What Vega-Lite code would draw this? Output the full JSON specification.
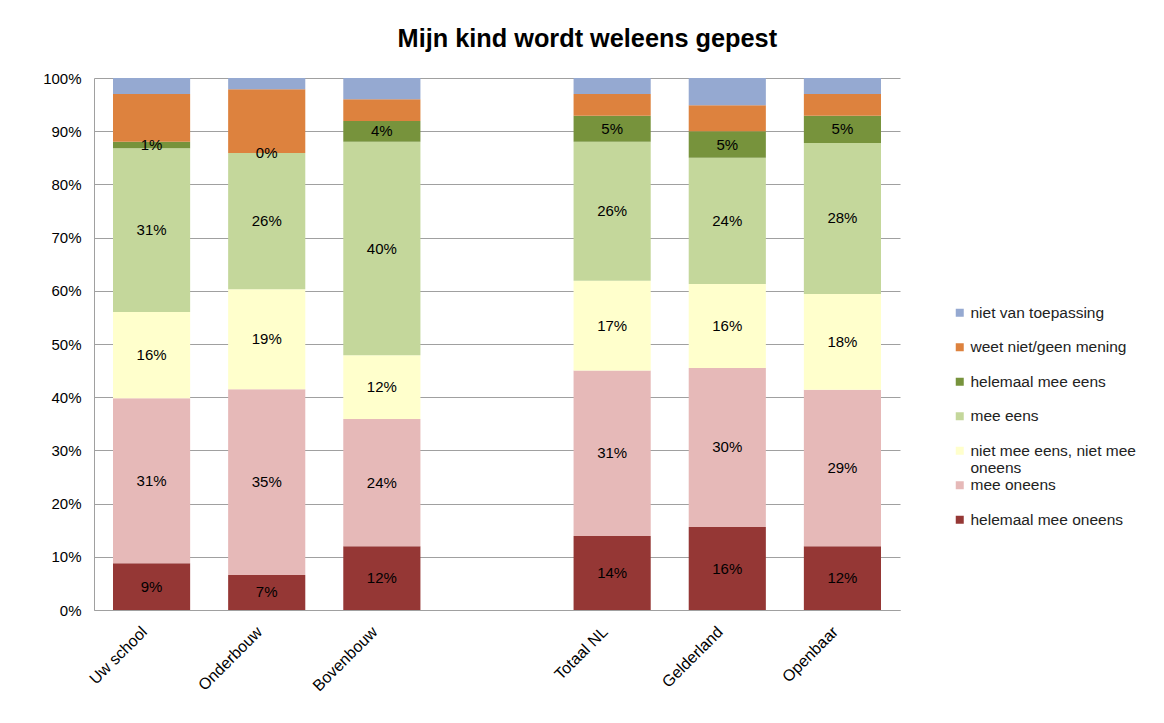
{
  "$schema": "https://vega.github.io/schema/vega-lite/v6.json",
  "autosize": "none",
  "width": 806,
  "height": 532,
  "padding": {"left": 94, "top": 78, "right": 264, "bottom": 113},
  "background": "white",
  "config": {"font": "Liberation Sans", "view": {"stroke": null}},
  "title": {"text": "Mijn kind wordt weleens gepest", "fontSize": 25.3, "font": "Liberation Sans", "fontWeight": "bold", "color": "black", "anchor": "middle", "frame": "bounds", "offset": 19, "dx": -2},
  "data": {"values": [
    {"groep": "Uw school", "categorie": "helemaal mee oneens", "waarde": 8.8},
    {"groep": "Uw school", "categorie": "mee oneens", "waarde": 31.0},
    {"groep": "Uw school", "categorie": "niet mee eens, niet mee oneens", "waarde": 16.2},
    {"groep": "Uw school", "categorie": "mee eens", "waarde": 30.8},
    {"groep": "Uw school", "categorie": "helemaal mee eens", "waarde": 1.2},
    {"groep": "Uw school", "categorie": "weet niet/geen mening", "waarde": 9.0},
    {"groep": "Uw school", "categorie": "niet van toepassing", "waarde": 3.0},
    {"groep": "Onderbouw", "categorie": "helemaal mee oneens", "waarde": 6.6},
    {"groep": "Onderbouw", "categorie": "mee oneens", "waarde": 34.9},
    {"groep": "Onderbouw", "categorie": "niet mee eens, niet mee oneens", "waarde": 18.8},
    {"groep": "Onderbouw", "categorie": "mee eens", "waarde": 25.6},
    {"groep": "Onderbouw", "categorie": "helemaal mee eens", "waarde": 0.0},
    {"groep": "Onderbouw", "categorie": "weet niet/geen mening", "waarde": 12.0},
    {"groep": "Onderbouw", "categorie": "niet van toepassing", "waarde": 2.1},
    {"groep": "Bovenbouw", "categorie": "helemaal mee oneens", "waarde": 12.0},
    {"groep": "Bovenbouw", "categorie": "mee oneens", "waarde": 23.9},
    {"groep": "Bovenbouw", "categorie": "niet mee eens, niet mee oneens", "waarde": 12.0},
    {"groep": "Bovenbouw", "categorie": "mee eens", "waarde": 40.1},
    {"groep": "Bovenbouw", "categorie": "helemaal mee eens", "waarde": 3.9},
    {"groep": "Bovenbouw", "categorie": "weet niet/geen mening", "waarde": 4.1},
    {"groep": "Bovenbouw", "categorie": "niet van toepassing", "waarde": 4.0},
    {"groep": "Totaal NL", "categorie": "helemaal mee oneens", "waarde": 13.9},
    {"groep": "Totaal NL", "categorie": "mee oneens", "waarde": 31.1},
    {"groep": "Totaal NL", "categorie": "niet mee eens, niet mee oneens", "waarde": 16.9},
    {"groep": "Totaal NL", "categorie": "mee eens", "waarde": 26.1},
    {"groep": "Totaal NL", "categorie": "helemaal mee eens", "waarde": 4.9},
    {"groep": "Totaal NL", "categorie": "weet niet/geen mening", "waarde": 4.1},
    {"groep": "Totaal NL", "categorie": "niet van toepassing", "waarde": 3.0},
    {"groep": "Gelderland", "categorie": "helemaal mee oneens", "waarde": 15.6},
    {"groep": "Gelderland", "categorie": "mee oneens", "waarde": 29.9},
    {"groep": "Gelderland", "categorie": "niet mee eens, niet mee oneens", "waarde": 15.8},
    {"groep": "Gelderland", "categorie": "mee eens", "waarde": 23.7},
    {"groep": "Gelderland", "categorie": "helemaal mee eens", "waarde": 5.0},
    {"groep": "Gelderland", "categorie": "weet niet/geen mening", "waarde": 4.9},
    {"groep": "Gelderland", "categorie": "niet van toepassing", "waarde": 5.1},
    {"groep": "Openbaar", "categorie": "helemaal mee oneens", "waarde": 12.0},
    {"groep": "Openbaar", "categorie": "mee oneens", "waarde": 29.4},
    {"groep": "Openbaar", "categorie": "niet mee eens, niet mee oneens", "waarde": 18.0},
    {"groep": "Openbaar", "categorie": "mee eens", "waarde": 28.4},
    {"groep": "Openbaar", "categorie": "helemaal mee eens", "waarde": 5.1},
    {"groep": "Openbaar", "categorie": "weet niet/geen mening", "waarde": 4.1},
    {"groep": "Openbaar", "categorie": "niet van toepassing", "waarde": 3.0}
  ]},
  "transform": [
    {"calculate": "indexof(['helemaal mee oneens','mee oneens','niet mee eens, niet mee oneens','mee eens','helemaal mee eens','weet niet/geen mening','niet van toepassing'], datum.categorie)", "as": "rang"},
    {"stack": "waarde", "groupby": ["groep"], "sort": [{"field": "rang", "order": "ascending"}], "as": ["y0", "y1"]},
    {"calculate": "(datum.y0 + datum.y1) / 2", "as": "midden"},
    {"calculate": "format(datum.waarde, '.0f') + '%'", "as": "label"}
  ],
  "encoding": {
    "x": {
      "field": "groep", "type": "nominal", "title": null,
      "scale": {"domain": ["Uw school", "Onderbouw", "Bovenbouw", " ", "Totaal NL", "Gelderland", "Openbaar"], "paddingInner": 0.33, "paddingOuter": 0.165},
      "axis": {"labelAngle": -45, "labelAlign": "right", "labelBaseline": "middle", "labelPadding": 19, "labelOffset": -7, "ticks": false, "labelFontSize": 16, "labelColor": "black", "domainColor": "#A0A0A0", "labelFont": "Liberation Sans"}
    }
  },
  "layer": [
    {
      "mark": {"type": "bar"},
      "encoding": {
        "y": {"field": "y0", "type": "quantitative", "title": null,
          "scale": {"domain": [0, 100], "nice": false},
          "axis": {"values": [0, 10, 20, 30, 40, 50, 60, 70, 80, 90, 100], "labelExpr": "datum.value + '%'", "ticks": false, "labelPadding": 13, "labelFontSize": 15, "labelColor": "black", "domainColor": "#A0A0A0", "gridColor": "#A0A0A0", "grid": true, "labelFont": "Liberation Sans"}},
        "y2": {"field": "y1"},
        "color": {
          "field": "categorie", "type": "nominal", "title": null,
          "scale": {
            "domain": ["niet van toepassing", "weet niet/geen mening", "helemaal mee eens", "mee eens", "niet mee eens, niet mee oneens", "mee oneens", "helemaal mee oneens"],
            "range": ["#95A9D1", "#DD823E", "#77933C", "#C4D79B", "#FFFFCC", "#E6B9B8", "#953735"]
          },
          "legend": {
            "orient": "none", "legendX": 858, "legendY": 227,
            "symbolType": "square", "symbolSize": 64, "symbolStrokeWidth": 0,
            "labelFontSize": 15.5, "labelColor": "#222222", "labelFont": "Liberation Sans", "labelOffset": 3,
            "rowPadding": 0.5, "labelLimit": 300,
            "labelExpr": "datum.label == 'niet mee eens, niet mee oneens' ? ['niet mee eens, niet mee', 'oneens'] : [datum.label, ' ']"
          }
        }
      }
    },
    {
      "transform": [{"filter": "datum.rang <= 4"}],
      "mark": {"type": "text", "fontSize": 15, "color": "black", "font": "Liberation Sans"},
      "encoding": {
        "y": {"field": "midden", "type": "quantitative"},
        "text": {"field": "label"}
      }
    }
  ]
}
